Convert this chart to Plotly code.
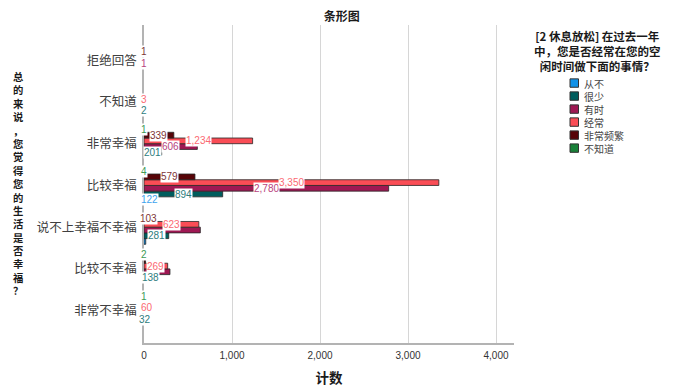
import plotly.graph_objects as go

# ---------------- data ----------------
# categories listed from bottom to top of the chart
categories = ["非常不幸福", "比较不幸福", "说不上幸福不幸福", "比较幸福", "非常幸福", "不知道", "拒绝回答"]
series_names = ["从不", "很少", "有时", "经常", "非常频繁", "不知道"]

never      = [None, None, 20, 122, None, None, None]
rarely     = [32, 138, 281, 894, 201, 2, None]
sometimes  = [None, 295, 640, 2780, 606, None, 1]
often      = [60, 269, 623, 3350, 1234, 3, None]
very_often = [None, 18, 103, 579, 339, None, 1]
dont_know  = [1, 2, None, 4, 1, None, None]

x_tick_vals = [0, 1000, 2000, 3000, 4000]
x_tick_text = ["0", "1,000", "2,000", "3,000", "4,000"]

title_text = "条形图"
x_title = "计数"
y_title = "总的来说，您觉得您的生活是否幸福？"
legend_title_lines = ["[2 休息放松] 在过去一年", "中，您是否经常在您的空", "闲时间做下面的事情？"]

# labels hidden in the original (overlapped)
hidden_labels = {("从不", "说不上幸福不幸福"), ("有时", "说不上幸福不幸福"),
                 ("非常频繁", "比较不幸福"), ("有时", "比较不幸福")}

# ---------------- style ----------------
values_by_series = [never, rarely, sometimes, often, very_often, dont_know]
bar_colors = ["#1192e8", "#005d5d", "#9f1853", "#fa4d56", "#570408", "#198038"]
label_colors = ["#3ea3ee", "#2e7d7d", "#b8447e", "#fb6a72", "#7e3535", "#3d9a55"]

OFF = 8  # page body margin of the html page
PAGE_W, PAGE_H = 680, 387
W, H = PAGE_W - OFF, PAGE_H - OFF
L, R, T, B = 144, 514, 25, 342.7   # plot area in page pixels
BARGAP = 0.18
CJK = "Noto Sans CJK SC, Noto Sans, sans-serif"
NUM = "Liberation Sans, Arial, sans-serif"
LEG_SIZE = 10
LEG_STEP = LEG_SIZE * 1.3
LEG_TOP = 83


def px(x):
    return (x - L) / (R - L)


def py(y):
    return (B - y) / (B - T)


positions = list(range(len(categories)))

fig = go.Figure()
for name, vals, col in zip(series_names, values_by_series, bar_colors):
    fig.add_trace(go.Bar(
        name=name, y=positions, x=vals, orientation="h",
        marker=dict(color=col, line=dict(color="#262626", width=0.8)),
        showlegend=False,
    ))

n = len(series_names)
slot = (1 - BARGAP) / n
annotations = []
for i, (name, vals) in enumerate(zip(series_names, values_by_series)):
    for j, v in enumerate(vals):
        if v is None or (name, categories[j]) in hidden_labels:
            continue
        annotations.append(dict(
            x=v / 2, y=j + (i - (n - 1) / 2) * slot, xref="x", yref="y",
            text=f"{v:,}", showarrow=False, xanchor="center", yanchor="middle",
            font=dict(size=10, color=label_colors[i], family=NUM),
            bgcolor="white", borderpad=0,
        ))

# vertical (stacked) y-axis title
annotations.append(dict(
    x=px(18.5), y=py((76.7 + 290.0) / 2), xref="paper", yref="paper",
    text="<b>" + "<br>".join(list(y_title)) + "</b>", showarrow=False,
    xanchor="center", yanchor="middle", align="center",
    font=dict(size=10.3, color="#1a1a1a", family=CJK),
))

# legend title
annotations.append(dict(
    x=px(597.5), y=py(50.5), xref="paper", yref="paper",
    text="<b>" + "<br>".join(legend_title_lines) + "</b>", showarrow=False,
    xanchor="center", yanchor="middle", align="center",
    font=dict(size=11.5, color="#1a1a1a", family=CJK),
))

# legend swatches + labels
shapes = []
for k, col in enumerate(bar_colors):
    yc = LEG_TOP + k * LEG_STEP
    shapes.append(dict(
        type="rect", xref="paper", yref="paper",
        x0=px(570), x1=px(578.5), y0=py(yc + 4.2), y1=py(yc - 4.2),
        fillcolor=col, line=dict(color="#333333", width=1),
    ))
legend_mid = LEG_TOP + (len(series_names) - 1) * LEG_STEP / 2
annotations.append(dict(
    x=px(581.5), y=py(legend_mid), xref="paper", yref="paper",
    text="<br>".join(series_names), showarrow=False,
    xanchor="left", yanchor="middle", align="left",
    font=dict(size=LEG_SIZE, color="#444444", family=CJK),
))

fig.update_layout(
    width=W, height=H,
    margin=dict(l=L - OFF, r=PAGE_W - R, t=T - OFF, b=PAGE_H - B, pad=0, autoexpand=False),
    barmode="group", bargap=BARGAP, bargroupgap=0,
    plot_bgcolor="white", paper_bgcolor="white",
    showlegend=False,
    font=dict(family=CJK, color="#333333"),
    title=dict(text=f"<b>{title_text}</b>", x=(341.7 - OFF) / W, y=1 - (17 - OFF) / H,
               xanchor="center", yanchor="middle", xref="container", yref="container",
               font=dict(size=12, color="#1a1a1a", family=CJK)),
    annotations=annotations,
    shapes=shapes,
)

fig.update_xaxes(
    range=[0, 4204], tickvals=x_tick_vals, ticktext=x_tick_text,
    showgrid=True, gridcolor="#d6d6d6", gridwidth=1.3,
    showline=True, linecolor="#b3b3b3", linewidth=1.5, zeroline=False,
    ticks="", ticklabelstandoff=2, tickfont=dict(size=10, color="#333333", family=NUM),
    title=dict(text=f"<b>{x_title}</b>", font=dict(size=13.5, color="#1a1a1a", family=CJK), standoff=14),
    automargin=False,
)
fig.update_yaxes(
    range=[-0.775, 6.844], tickvals=positions, ticktext=categories,
    showgrid=False, showline=True, linecolor="#b3b3b3", linewidth=1.5, zeroline=False,
    ticks="", ticklabelstandoff=3,
    tickfont=dict(size=12.5, color="#404040", family=CJK),
    automargin=False,
)

fig.write_html("out.html")
